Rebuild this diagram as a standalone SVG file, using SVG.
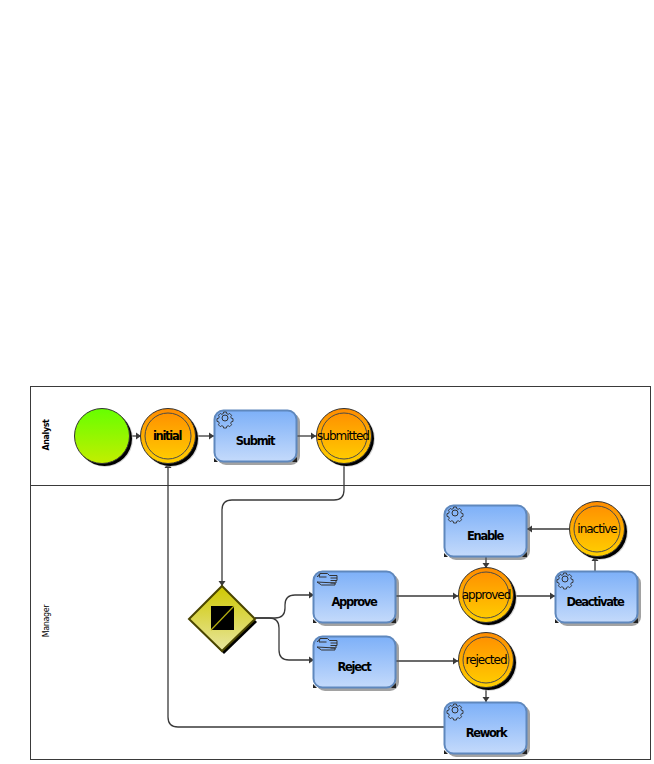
<svg xmlns="http://www.w3.org/2000/svg" width="654" height="764" viewBox="0 0 654 764">
<style>
text{font-family:"DejaVu Sans",sans-serif;fill:#000;text-anchor:middle}
.b{font-size:11.5px;font-weight:bold;letter-spacing:-1.300px}
.s{font-size:12px;letter-spacing:-1px}
.lane{font-size:8px;letter-spacing:-.4px}
.c{fill:none;stroke:#3a3a3a;stroke-width:1.300}
.ring{fill:none;stroke:#4a4a4a;stroke-width:1}
.ev{fill:url(#o);stroke:#333;stroke-width:1}
.sh{fill:#000}
.halo{fill:#bbb;opacity:.6}
.task{fill:url(#bl);stroke:#5f88bd;stroke-width:2}
.ic{fill:none;stroke:#333;stroke-width:1}
</style>
<defs>
<linearGradient id="o" x1="0" y1="0" x2="0" y2="1"><stop offset="0" stop-color="#ff8c00"/><stop offset="1" stop-color="#ffd000"/></linearGradient>
<linearGradient id="g" x1="0" y1="0" x2="0" y2="1"><stop offset="0" stop-color="#66ff00"/><stop offset="1" stop-color="#c3ee00"/></linearGradient>
<linearGradient id="bl" x1="0" y1="0" x2="0" y2="1"><stop offset="0" stop-color="#7db0f8"/><stop offset="1" stop-color="#c4dafb"/></linearGradient>
<linearGradient id="y" x1="0" y1="0" x2="0" y2="1"><stop offset="0" stop-color="#cfc800"/><stop offset="1" stop-color="#e8e6a0"/></linearGradient>
<marker id="a" markerWidth="6" markerHeight="8" refX="5" refY="4" orient="auto" markerUnits="userSpaceOnUse"><path d="M0 .5L5 4L0 7.500Z" fill="#3a3a3a"/></marker>
<g id="gear" class="ic"><circle cx="0" cy="0" r="3"/><path d="M-1.500-6.500h3l.4 1.800 1.600.7 1.600-1 2.100 2.100-1 1.600.7 1.600 1.800.4v3l-1.800.4-.7 1.600 1 1.600-2.100 2.100-1.600-1-1.600.7-.4 1.800h-3l-.4-1.800-1.600-.7-1.600 1-2.100-2.100 1-1.600-.7-1.600-1.800-.4v-3l1.800-.4.7-1.600-1-1.600 2.100-2.100 1.600 1 1.600-.7z" transform="scale(.92)"/></g>
<g id="hand" class="ic"><path d="M.5 4L3.500 .5H11M3.500 .5L2.500 4H10M11 .5L13 2.500H20.500V5H14M20.500 5V7.500H14M19.500 7.500V10H14M18.500 10V12H5L.5 9Z"/></g>
<g id="task"><rect x="3" y="3" width="83" height="52" rx="9" fill="#555" opacity=".55"/><rect x="0.500" y="0.500" width="82" height="51" rx="9" class="task"/><path d="M83 52l-5 0 5-5z" fill="#222"/><path d="M0 52l4 0-4-4z" fill="#222"/></g>
<g id="evbg"><circle cx="3" cy="3" r="28" class="halo"/><circle cx="2.500" cy="2.500" r="27.500" class="sh"/><circle r="27.500" class="ev"/><circle r="23" class="ring"/></g>
</defs>
<rect width="654" height="764" fill="#fff"/>
<g id="pool" fill="none" stroke="#3a3a3a" stroke-width="1">
<rect x="30.500" y="386.500" width="620" height="373"/>
<path d="M30.500 485.500H650.500"/>
</g>
<text id="lane-analyst" class="lane" transform="translate(49,435) rotate(-90)" style="font-weight:bold">Analyst</text>
<text id="lane-manager" class="lane" transform="translate(49,621) rotate(-90)">Manager</text>
<g id="connectors">
<path class="c" d="M129 436H141" marker-end="url(#a)"/>
<path class="c" d="M195 436H214" marker-end="url(#a)"/>
<path class="c" d="M297 436H316" marker-end="url(#a)"/>
<path class="c" d="M344 463V490Q344 500 334 500H232Q222 500 222 510V586" marker-end="url(#a)"/>
<path class="c" d="M255 618H275Q285 618 285 608V605Q285 595 295 595H314" marker-end="url(#a)"/>
<path class="c" d="M255 618H269Q279 618 279 628V650Q279 660 289 660H314" marker-end="url(#a)"/>
<path class="c" d="M396 596H458" marker-end="url(#a)"/>
<path class="c" d="M396 661H458" marker-end="url(#a)"/>
<path class="c" d="M513 596H555" marker-end="url(#a)"/>
<path class="c" d="M595 571V556" marker-end="url(#a)"/>
<path class="c" d="M569 529H527" marker-end="url(#a)"/>
<path class="c" d="M486 556V568" marker-end="url(#a)"/>
<path class="c" d="M486 688V702" marker-end="url(#a)"/>
<path class="c" d="M444 727H178Q168 727 168 717V463" marker-end="url(#a)"/>
</g>
<g id="start"><circle cx="105" cy="439" r="28" class="halo"/><circle cx="104.500" cy="438.500" r="27.500" class="sh"/><circle cx="102" cy="436" r="27.500" fill="url(#g)" stroke="#333"/></g>
<g id="initial" transform="translate(168,436)"><use href="#evbg"/><text class="b" x="-1" y="4">initial</text></g>
<g id="submitted" transform="translate(344,436)"><use href="#evbg"/><text class="s" x="-1" y="4">submitted</text></g>
<g id="inactive" transform="translate(597,529)"><use href="#evbg"/><text class="s" x="0" y="4">inactive</text></g>
<g id="approved" transform="translate(486,595)"><use href="#evbg"/><text class="s" y="4">approved</text></g>
<g id="rejected" transform="translate(486,660)"><use href="#evbg"/><text class="s" y="4">rejected</text></g>
<g id="submit" transform="translate(214,410)"><use href="#task"/><use href="#gear" x="11" y="8"/><text class="b" x="41" y="35">Submit</text></g>
<g id="enable" transform="translate(444,505)"><use href="#task"/><use href="#gear" x="11" y="8"/><text class="b" x="41" y="35">Enable</text></g>
<g id="deactivate" transform="translate(555,571)"><use href="#task"/><use href="#gear" x="10" y="8"/><text class="b" x="40" y="35">Deactivate</text></g>
<g id="approve" transform="translate(313,571)"><use href="#task"/><use href="#hand" x="3.500" y="2"/><text class="b" x="41" y="35">Approve</text></g>
<g id="reject" transform="translate(313,636)"><use href="#task"/><use href="#hand" x="3.500" y="2"/><text class="b" x="41" y="35">Reject</text></g>
<g id="rework" transform="translate(444,702)"><use href="#task"/><use href="#gear" x="11" y="8"/><text class="b" x="42" y="35">Rework</text></g>
<g id="gateway">
<path d="M224 589L257 622L224 654L192 622Z" fill="#000"/>
<path d="M222 586L255 619L222 651L189 619Z" fill="url(#y)" stroke="#4a4500" stroke-width="2"/>
<rect x="211" y="606" width="23" height="24" fill="#000"/>
<path d="M211 630L234 606" stroke="#b5ae10" stroke-width="1.200"/>
</g>
</svg>
